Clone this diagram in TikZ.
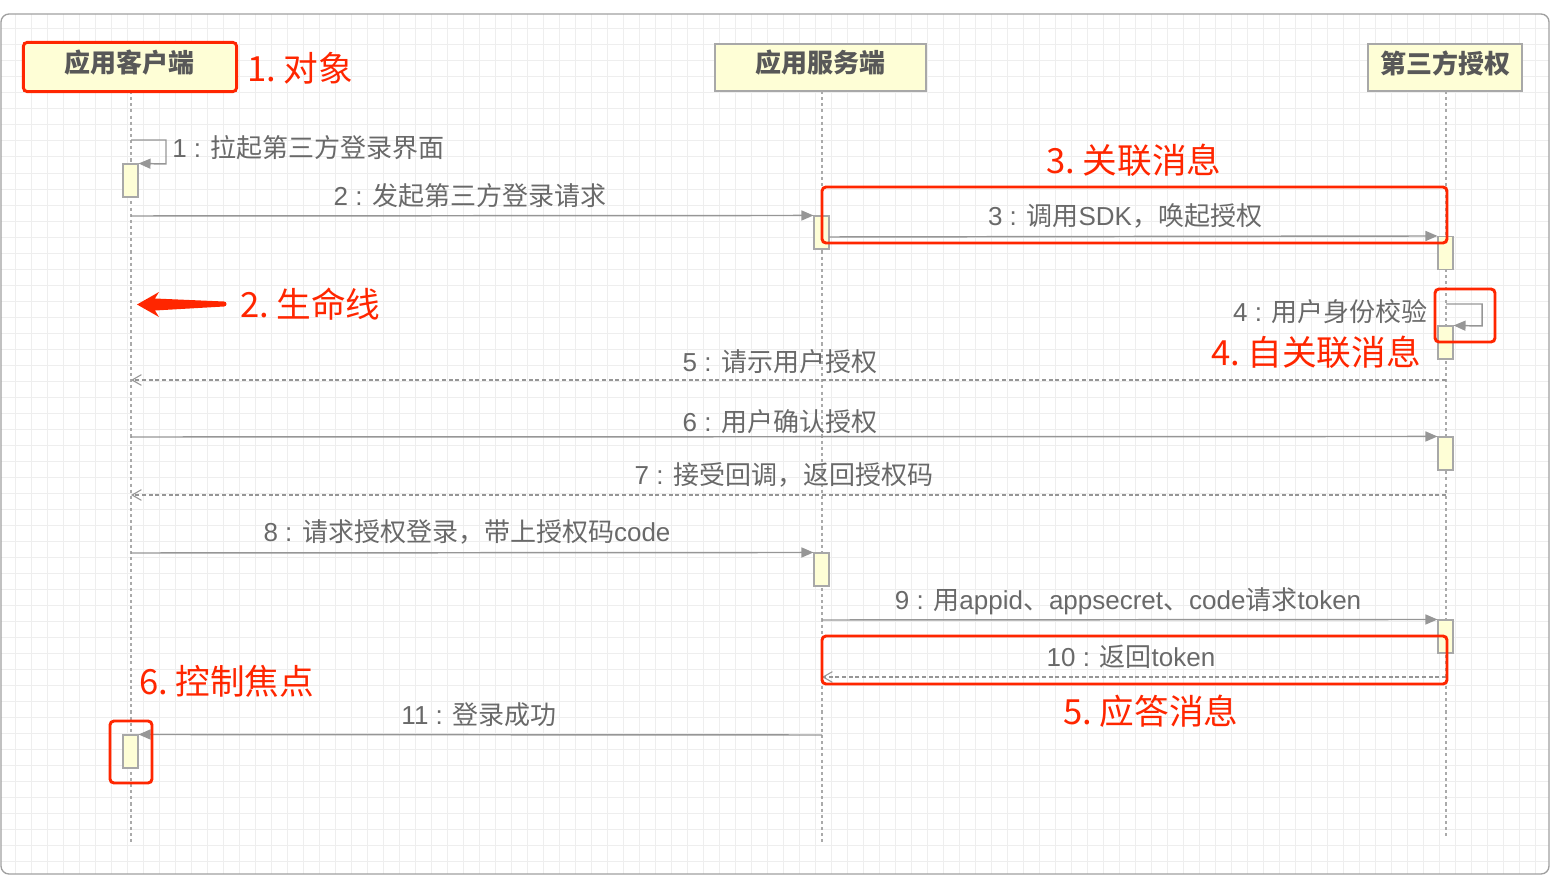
\documentclass[tikz,border=0pt]{standalone}
\usepackage{fontspec}
\setmainfont{Liberation Sans}
\newfontfamily\cjk{Noto Sans CJK SC}
\newcommand{\zh}[1]{{\cjk #1}}
\usetikzlibrary{arrows.meta}
\definecolor{annred}{RGB}{255,38,0}
\definecolor{lblgray}{RGB}{105,105,105}
\definecolor{hdrgray}{RGB}{88,88,88}
\definecolor{linegray}{RGB}{150,150,150}
\definecolor{lifegray}{RGB}{170,170,170}
\definecolor{boxfill}{RGB}{254,254,214}
\definecolor{boxborder}{RGB}{168,168,168}
\definecolor{gridc}{RGB}{238,238,238}
\definecolor{framec}{RGB}{160,160,160}
\tikzset{
  actorbox/.style={draw=boxborder, fill=boxfill, line width=1pt, inner sep=0pt},
  hdrtext/.style={text=hdrgray, inner sep=0pt, font=\cjk\bfseries\fontsize{19.5pt}{22pt}\selectfont},
  actbox/.style={draw=boxborder, fill=boxfill, line width=0.8pt, minimum width=11.25pt, minimum height=24.75pt, inner sep=0pt},
  lifeline/.style={draw=lifegray, line width=1.1pt, dash pattern=on 2.3pt off 2.3pt},
  msg/.style={draw=linegray, line width=1.1pt, -{Triangle[length=9pt,width=7.5pt]}},
  retmsg/.style={draw=linegray, line width=0.8pt, dash pattern=on 3pt off 2pt, -{Straight Barb[length=7pt,width=8pt,line width=0.8pt]}},
  lbl/.style={text=lblgray, inner sep=0pt, font=\fontsize{19.5pt}{22pt}\selectfont},
  ann/.style={text=annred, inner sep=0pt, font=\cjk\fontsize{26pt}{30pt}\selectfont},
  hl/.style={draw=annred, line width=2.2pt, rounded corners=3pt}
}
\newcommand{\dotgap}{\hspace{5.5pt}}
\begin{document}
\begin{tikzpicture}[x=0.75pt,y=-0.75pt]
\useasboundingbox (0,0) rectangle (1551,888);
% grid
\begin{scope}
\clip[rounded corners=6pt] (1,14) rectangle (1549,874);
\foreach \gx in {15,31,...,1543} \draw[gridc, line width=0.75pt] (\gx,14) -- (\gx,874);
\foreach \gy in {29,45,...,861} \draw[gridc, line width=0.75pt] (1,\gy) -- (1549,\gy);
\end{scope}
\draw[framec, line width=1pt, rounded corners=6pt] (1,14) rectangle (1549,874);

% header boxes
\node[actorbox, minimum width=159pt, minimum height=36pt] (cli) at (130,67) {};
\node[actorbox, minimum width=158.25pt, minimum height=35.25pt] (srv) at (820.5,67.5) {};
\node[actorbox, minimum width=115.5pt, minimum height=35.25pt] (tp) at (1445,67.5) {};
\node[hdrtext] (clit) at (129,63) {应用客户端};
\node[hdrtext] (srvt) at (820,63) {应用服务端};
\node[hdrtext] (tpt) at (1445,63) {第三方授权};

% lifelines
\coordinate (c0) at (131,91);  \coordinate (c1) at (131,843);
\coordinate (s0) at (822,91);  \coordinate (s1) at (822,843);
\coordinate (t0) at (1446,91); \coordinate (t1) at (1446,838);
\draw[lifeline] (c0) -- (c1);
\draw[lifeline] (s0) -- (s1);
\draw[lifeline] (t0) -- (t1);

% activation boxes
\node[actbox] (a1) at (130.5,180.5) {};
\node[actbox] (a2) at (821.5,232.5) {};
\node[actbox] (a3) at (1445.5,253) {};
\node[actbox] (a4) at (1445.5,342.5) {};
\node[actbox] (a6) at (1445.5,453.5) {};
\node[actbox] (a8) at (821.5,569.5) {};
\node[actbox] (a9) at (1445.5,636.5) {};
\node[actbox] (a11) at (130.5,751.5) {};

% message endpoints
\coordinate (m1) at (131,140);
\coordinate (m2) at (131,216);
\coordinate (m3) at (829,237);
\coordinate (m4) at (1446,304);
\coordinate (m5a) at (1446,380); \coordinate (m5b) at (131,380);
\coordinate (m6) at (131,437);
\coordinate (m7a) at (1446,495); \coordinate (m7b) at (131,495);
\coordinate (m8) at (131,553);
\coordinate (m9) at (822,620);
\coordinate (m10a) at (1446,677); \coordinate (m10b) at (822,677);
\coordinate (m11) at (822,735);

\draw[msg] (m1) -- (166,140) -- (166,164) -- (a1.north east);
\draw[msg] (m2) -- (a2.north west);
\draw[msg] (m3) -- (a3.north west);
\draw[msg] (m4) -- (1482,304) -- (1482,326) -- (a4.north east);
\draw[retmsg] (m5a) -- (m5b);
\draw[msg] (m6) -- (a6.north west);
\draw[retmsg] (m7a) -- (m7b);
\draw[msg] (m8) -- (a8.north west);
\draw[msg] (m9) -- (a9.north west);
\draw[retmsg] (m10a) -- (m10b);
\draw[msg] (m11) -- (a11.north east);

% labels
\node[lbl, anchor=west] (l1) at (172,148) {1 : \zh{拉起第三方登录界面}};
\node[lbl] (l2) at (470,196) {2 : \zh{发起第三方登录请求}};
\node[lbl] (l3) at (1125,216) {3 : \zh{调用}SDK\zh{，唤起授权}};
\node[lbl, anchor=east] (l4) at (1428,312) {4 : \zh{用户身份校验}};
\node[lbl] (l5) at (780,362) {5 : \zh{请示用户授权}};
\node[lbl] (l6) at (780,422) {6 : \zh{用户确认授权}};
\node[lbl] (l7) at (784,475) {7 : \zh{接受回调，返回授权码}};
\node[lbl] (l8) at (467,532) {8 : \zh{请求授权登录，带上授权码}code};
\node[lbl] (l9) at (1128,601) {9 : \zh{用}appid\zh{、}appsecret\zh{、}code\zh{请求}token};
\node[lbl] (l10) at (1131,657) {10 : \zh{返回}token};
\node[lbl] (l11) at (479,715) {11 : \zh{登录成功}};

% highlights
\draw[hl] (cli.north west) rectangle (cli.south east);
\draw[hl] (822,187) rectangle (1447,243);
\draw[hl] (1435,289) rectangle (1495,342);
\draw[hl] (822,636) rectangle (1447,684);
\draw[hl] (110,721) rectangle (152,783);

% annotations
\node[ann, anchor=west] (n1) at (247,68) {1.\dotgap 对象};
\node[ann, anchor=west] (n2) at (240,304) {2.\dotgap 生命线};
\node[ann] (n3) at (1134,160) {3.\dotgap 关联消息};
\node[ann, anchor=east] (n4) at (1421,352) {4.\dotgap 自关联消息};
\node[ann] (n5) at (1151,711) {5.\dotgap 应答消息};
\node[ann, anchor=west] (n6) at (139,681) {6.\dotgap 控制焦点};

% red arrow for lifeline annotation
\fill[annred] (137,304.5) -- (159,292) -- (155,298.5) -- (224,301.5)
  arc[start angle=-90, end angle=90, radius=2.5] -- (155,310.5) -- (159,317) -- cycle;
\end{tikzpicture}
\end{document}
